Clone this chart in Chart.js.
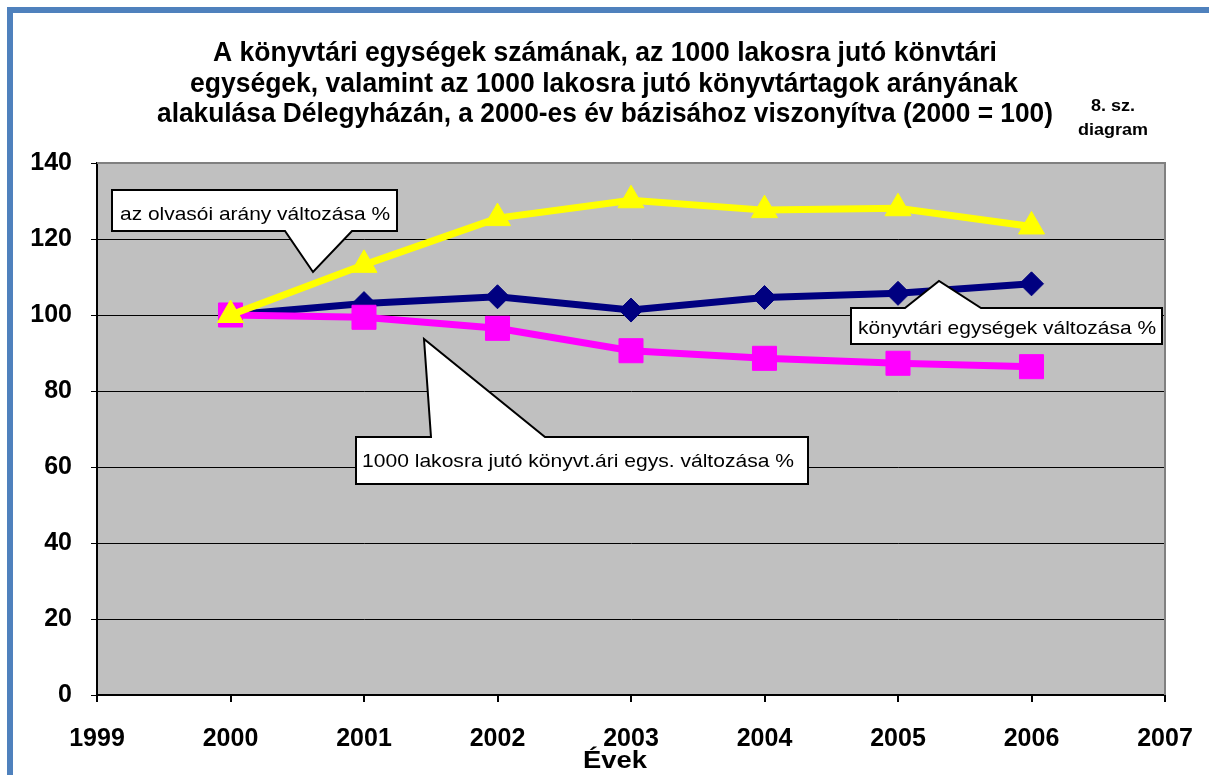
<!DOCTYPE html>
<html>
<head>
<meta charset="utf-8">
<script src="https://cdn.jsdelivr.net/npm/chart.js@4.4.1/dist/chart.umd.min.js"></script>
<style>
html,body{margin:0;padding:0;background:#fff;}
#wrap{width:1209px;height:775px;position:relative;}
</style>
</head>
<body>
<div id="wrap"><canvas id="c" width="1209" height="775"></canvas></div>
<script>
const years = [2000, 2001, 2002, 2003, 2004, 2005, 2006];
const olvasoiArany = [100, 113.2, 125.5, 130.2, 127.6, 128.1, 123.3];
const konyvtariEgysegek = [100, 103.0, 104.8, 101.3, 104.6, 105.7, 108.2];
const lakosraJutoEgysegek = [100, 99.4, 96.5, 90.6, 88.6, 87.3, 86.4];
const xTickLabels = ['1999','2000','2001','2002','2003','2004','2005','2006','2007'];
const yTickLabels = ['0','20','40','60','80','100','120','140'];
const seriesNames = ['az olvasói arány változása %', 'könyvtári egységek változása %', '1000 lakosra jutó könyvt.ári egys. változása %'];
const titleLines = [
  'A könyvtári egységek számának, az 1000 lakosra jutó könvtári',
  'egységek, valamint az 1000 lakosra jutó könyvtártagok arányának',
  'alakulása Délegyházán, a 2000-es év bázisához viszonyítva (2000 = 100)'
];
const sideNote = ['8. sz.', 'diagram'];
const xTitle = 'Évek';

function pts(vals){ return years.map((y,i)=>({x:y, y:vals[i]})); }

function fitText(ctx, text, x, y, width, align){
  const w = ctx.measureText(text).width;
  ctx.save();
  ctx.translate(x, y);
  ctx.scale(width / w, 1);
  ctx.textAlign = align;
  ctx.fillText(text, 0, 0);
  ctx.restore();
}

function callout(ctx, path, text, tx, ty, tw){
  ctx.save();
  ctx.beginPath();
  ctx.moveTo(path[0][0], path[0][1]);
  for (let i=1;i<path.length;i++) ctx.lineTo(path[i][0], path[i][1]);
  ctx.closePath();
  ctx.fillStyle = '#fff';
  ctx.fill();
  ctx.lineWidth = 2;
  ctx.strokeStyle = '#000';
  ctx.lineJoin = 'miter';
  ctx.stroke();
  ctx.fillStyle = '#000';
  ctx.font = '19px "Liberation Sans", Arial, sans-serif';
  ctx.textBaseline = 'alphabetic';
  fitText(ctx, text, tx, ty, tw, 'left');
  ctx.restore();
}

const decor = {
  id: 'decor',
  beforeDraw(chart){
    const ctx = chart.ctx, a = chart.chartArea;
    ctx.save();
    ctx.fillStyle = '#fff';
    ctx.fillRect(0,0,chart.width,chart.height);
    ctx.fillStyle = '#C0C0C0';
    ctx.fillRect(a.left, a.top, a.right-a.left, a.bottom-a.top);
    ctx.restore();
  },
  beforeDatasetsDraw(chart){
    const ctx = chart.ctx, a = chart.chartArea;
    ctx.save();
    ctx.strokeStyle = '#808080';
    ctx.lineWidth = 2;
    ctx.beginPath();
    ctx.moveTo(a.left, a.top);
    ctx.lineTo(a.right, a.top);
    ctx.lineTo(a.right, a.bottom);
    ctx.stroke();
    ctx.restore();
  },
  afterDatasetsDraw(chart){
    const ctx = chart.ctx;
    callout(ctx, [[112,190],[397,190],[397,231],[352,231],[313,272],[285,231],[112,231]],
      seriesNames[0], 120, 220, 270);
    callout(ctx, [[851,308],[905,308],[939,281],[981,308],[1162,308],[1162,344],[851,344]],
      seriesNames[1], 858, 334, 298);
    callout(ctx, [[356,437],[431,437],[424,339],[545,437],[808,437],[808,484],[356,484]],
      seriesNames[2], 362, 467, 432);
  },
  afterDraw(chart){
    const ctx = chart.ctx;
    ctx.save();
    // blue frame
    ctx.fillStyle = '#4F81BD';
    ctx.fillRect(7, 7, chart.width-7, 6);
    ctx.fillRect(7, 7, 6, chart.height-7);
    // title
    ctx.fillStyle = '#000';
    ctx.textBaseline = 'alphabetic';
    ctx.font = 'bold 27px "Liberation Sans", Arial, sans-serif';
    fitText(ctx, titleLines[0], 605, 61, 784, 'center');
    fitText(ctx, titleLines[1], 604, 92, 828, 'center');
    fitText(ctx, titleLines[2], 605, 122, 896, 'center');
    ctx.font = 'bold 17px "Liberation Sans", Arial, sans-serif';
    fitText(ctx, sideNote[0], 1113, 111, 44, 'center');
    fitText(ctx, sideNote[1], 1113, 135, 70, 'center');
    ctx.font = 'bold 23px "Liberation Sans", Arial, sans-serif';
    fitText(ctx, xTitle, 615, 768, 64, 'center');
    ctx.restore();
  }
};

const ctx = document.getElementById('c').getContext('2d');
new Chart(ctx, {
  type: 'line',
  data: {
    datasets: [
      { label: seriesNames[0], data: pts(olvasoiArany), borderColor:'#FFFF00', backgroundColor:'#FFFF00',
        borderWidth: 7, pointStyle:'triangle', pointRadius: 15, pointBorderWidth:1, pointBorderColor:'#FFFF00', tension:0 },
      { label: seriesNames[2], data: pts(lakosraJutoEgysegek), borderColor:'#FF00FF', backgroundColor:'#FF00FF',
        borderWidth: 7, pointStyle:'rect', pointRadius: 17, pointBorderWidth:1, pointBorderColor:'#FF00FF', tension:0 },
      { label: seriesNames[1], data: pts(konyvtariEgysegek), borderColor:'#000080', backgroundColor:'#000080',
        borderWidth: 7, pointStyle:'rectRot', pointRadius: 12, pointBorderWidth:1, pointBorderColor:'#000080', tension:0 }
    ]
  },
  options: {
    responsive: false,
    animation: false,
    devicePixelRatio: 1,
    layout: { padding: { left: 0, right: 44, top: 163, bottom: 0 } },
    plugins: { legend: { display:false }, title: { display:false }, tooltip: { enabled:false } },
    scales: {
      x: {
        type: 'linear', min: 1999, max: 2007,
        afterFit(s){ s.height = 80; s.paddingRight = 0; s.paddingLeft = 0; },
        ticks: { stepSize: 1, padding: 22, color:'#000',
          font: { family: '"Liberation Sans", Arial, sans-serif', size: 25, weight: 'bold' },
          callback: (v) => xTickLabels[Math.round(v - 1999)] },
        grid: { drawOnChartArea: false, drawTicks: true, tickLength: 7, color: '#000', lineWidth: 2 },
        border: { display: true, color: '#000', width: 2 }
      },
      y: {
        min: 0, max: 140,
        afterFit(s){ s.width = 97; s.paddingTop = 0; s.paddingBottom = 0; },
        ticks: { stepSize: 20, padding: 19, color:'#000',
          font: { family: '"Liberation Sans", Arial, sans-serif', size: 25, weight: 'bold' },
          callback: (v) => yTickLabels[Math.round(v/20)] },
        grid: { drawTicks: true, tickLength: 6, lineWidth: 1,
          color: (c) => (c.tick && c.tick.value === 140) ? 'rgba(0,0,0,0)' : '#000',
          tickColor: '#000' },
        border: { display: true, color: '#000', width: 2 }
      }
    }
  },
  plugins: [decor]
});
</script>
</body>
</html>
